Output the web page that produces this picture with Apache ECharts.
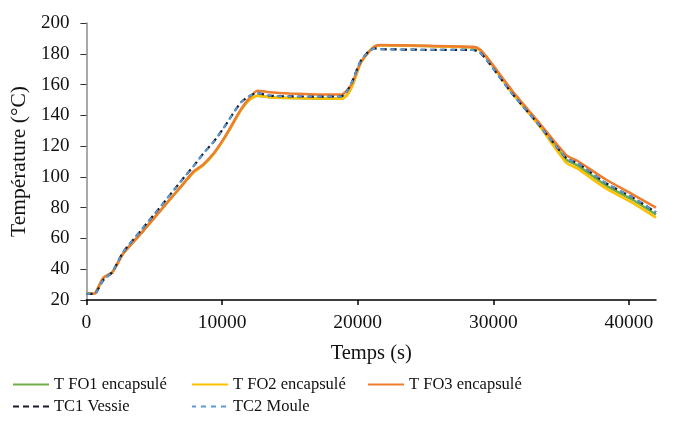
<!DOCTYPE html>
<html>
<head>
<meta charset="utf-8">
<script src="https://cdn.jsdelivr.net/npm/echarts@6/dist/echarts.min.js"></script>
<style>html,body{margin:0;padding:0;background:#fff}#c{width:681px;height:421px}</style>
</head>
<body>
<div id="c"></div>
<script>
// Time (s)
var time = [0, 500, 700, 1250, 1900, 2700, 4000, 5500, 7000, 7900, 8600, 9400, 10100, 10800, 11400, 12000, 12600, 13500, 15000, 17000, 18800, 19200, 19600, 20200, 20800, 21300, 21700, 25000, 28500, 29000, 29600, 31400, 33400, 35400, 36200, 38300, 40300, 42000];
var fo1 = [24, 24, 25, 34.5, 37.8, 50, 63, 78.5, 94, 103, 107.5, 115, 124, 134.5, 143.5, 150, 152.8, 151.8, 151.3, 151, 150.8, 153, 159, 173.5, 181, 185, 185.5, 185, 184.2, 182.5, 176.5, 154.5, 133.5, 111, 107.5, 94.5, 85, 75.5];
var fo2 = [24, 24, 25, 34.5, 37.8, 50, 63, 78.5, 94, 103, 107.5, 115, 124, 134.5, 143.5, 150, 152.8, 151.8, 151.3, 151, 150.8, 153, 159, 173.5, 181, 185, 185.5, 185, 184.2, 182.5, 176.5, 154.5, 133, 109, 105.5, 92.5, 83, 73.5];
var fo3 = [24, 24, 25, 34.5, 37.8, 50, 63, 78.5, 94, 103.5, 108, 115.5, 124.5, 135, 144, 151, 156, 155, 154.2, 153.6, 153.5, 156, 161, 174, 181, 185, 185.7, 185.2, 184.5, 183, 177, 156, 135, 114, 110.5, 98.3, 88.5, 80];
var tc1 = [24, 24, 24.5, 33, 38, 51, 65, 81, 97.5, 107, 115, 123, 131.5, 141, 148.5, 152.5, 154.5, 152.8, 152.3, 152.2, 152.3, 155.5, 162, 175, 181.5, 183.5, 183, 182.6, 182.5, 181, 175, 154, 133.5, 112, 109, 96, 86.5, 77];
var tc2 = [24, 24, 24.5, 33, 38, 51, 65, 81, 97.5, 107, 115, 123, 131.5, 141, 148.5, 152.5, 154.5, 152.8, 152.3, 152.2, 152.3, 155.5, 162, 175, 181.5, 183.5, 183, 182.6, 182.5, 181, 175, 154, 133.5, 112, 109, 96, 86.5, 77];
var xTicks = [0, 10000, 20000, 30000, 40000];
var names = ['T FO1 encapsulé', 'T FO2 encapsulé', 'T FO3 encapsulé', 'TC1 Vessie', 'TC2 Moule'];

function pairs(v) { return time.map(function (t, i) { return [t, v[i]]; }); }

var FONT = 'Liberation Serif';
var TXT = '#111';
var chart = echarts.init(document.getElementById('c'), null, { renderer: 'canvas' });

function legendAt(name, left, top) {
  return {
    data: [name], left: left, top: top, orient: 'horizontal',
    itemWidth: 36, itemHeight: 14, padding: 0, selectedMode: false,
    itemStyle: { opacity: 0 },
    textStyle: { fontFamily: FONT, fontSize: 16.5, color: TXT }
  };
}

var option = {
  animation: false,
  backgroundColor: '#fff',
  grid: { left: 86, right: 25, top: 23, bottom: 121, containLabel: false },
  xAxis: {
    type: 'value', min: 0, max: 42000, interval: 10000,
    name: 'Temps (s)', nameLocation: 'middle', nameGap: 43,
    nameTextStyle: { fontFamily: FONT, fontSize: 20.5, color: TXT },
    axisLine: { show: true, onZero: false, lineStyle: { color: '#000', width: 1.5 } },
    axisTick: { show: true, length: 5, customValues: xTicks, lineStyle: { color: '#000', width: 1.5 } },
    axisLabel: { customValues: xTicks, fontFamily: FONT, fontSize: 19.5, color: TXT, margin: 13,
      formatter: function (v) { return String(v); } },
    splitLine: { show: false }
  },
  yAxis: {
    type: 'value', min: 20, max: 200, interval: 20,
    name: 'Température (°C)', nameLocation: 'middle', nameGap: 53,
    nameTextStyle: { fontFamily: FONT, fontSize: 21.5, color: TXT },
    axisLine: { show: true, lineStyle: { color: '#8c8c8c', width: 1.5 } },
    axisTick: { show: true, length: 6, lineStyle: { color: '#333', width: 1 } },
    axisLabel: { fontFamily: FONT, fontSize: 19, color: TXT, margin: 17 },
    splitLine: { show: false }
  },
  legend: [
    legendAt(names[0], 12, 376),
    legendAt(names[1], 191, 376),
    legendAt(names[2], 367, 376),
    legendAt(names[3], 12, 398),
    legendAt(names[4], 191, 398)
  ],
  series: [
    { name: names[0], type: 'line', data: pairs(fo1), symbol: 'none', smooth: 0.2, color: '#70AD47', lineStyle: { width: 2.5, color: '#70AD47' } },
    { name: names[1], type: 'line', data: pairs(fo2), symbol: 'none', smooth: 0.2, color: '#FFC000', lineStyle: { width: 2.5, color: '#FFC000' } },
    { name: names[2], type: 'line', data: pairs(fo3), symbol: 'none', smooth: 0.2, color: '#ED7D31', lineStyle: { width: 2.5, color: '#ED7D31' } },
    { name: names[3], type: 'line', data: pairs(tc1), symbol: 'none', smooth: 0.2, color: '#1a1a2e', lineStyle: { width: 2.2, color: '#1a1a2e', type: [6, 4] } },
    { name: names[4], type: 'line', data: pairs(tc2), symbol: 'none', smooth: 0.2, color: '#5B9BD5', lineStyle: { width: 2, color: '#5B9BD5', type: [5, 5], dashOffset: 1 } }
  ]
};
chart.setOption(option);
</script>
</body>
</html>
